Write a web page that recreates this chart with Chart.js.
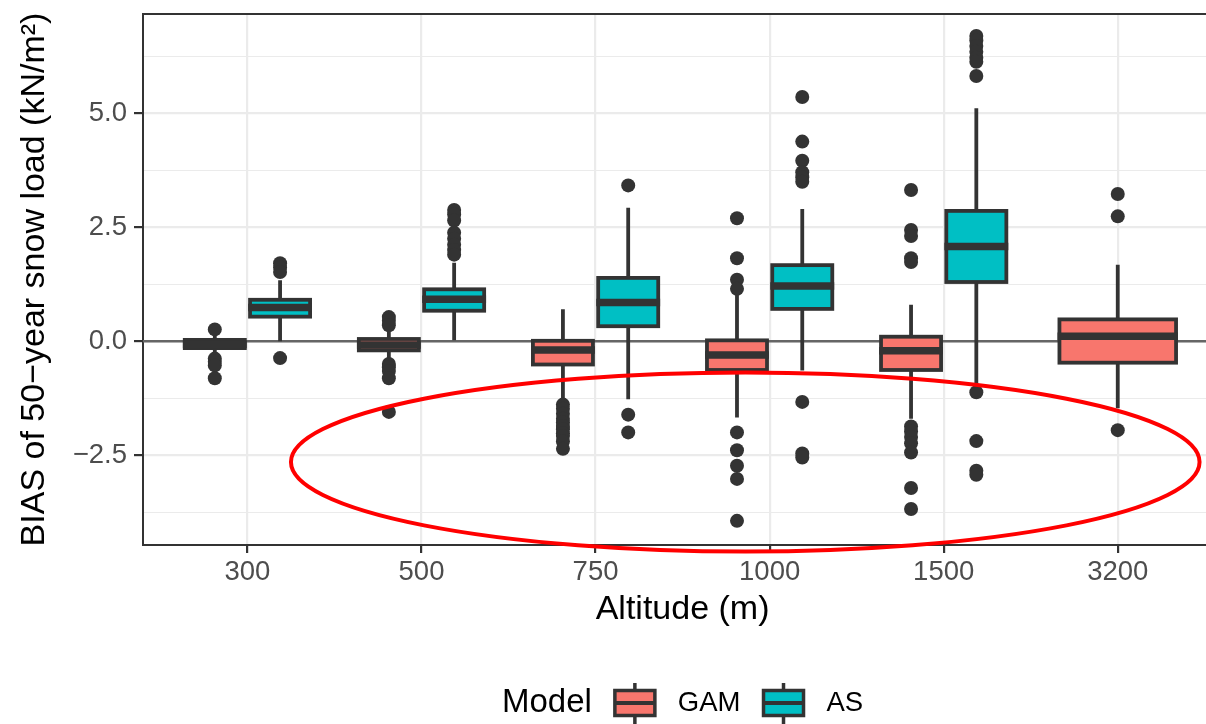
<!DOCTYPE html>
<html>
<head>
<meta charset="utf-8">
<script src="https://cdn.jsdelivr.net/npm/chart.js@4.4.0/dist/chart.umd.min.js"></script>
<style>
  html, body { margin: 0; padding: 0; background: #ffffff; }
</style>
</head>
<body>
<canvas id="chart" width="1206" height="724"></canvas>
<script>
const altitudes = ['300', '500', '750', '1000', '1500', '3200'];

// GAM: whisker ends, hinges and median per altitude
const gamLow = [-0.30, -0.42, -1.32, -1.67, -1.70, -1.47];
const gamQ1 = [-0.15, -0.20, -0.51, -0.63, -0.63, -0.47];
const gamMedian = [-0.07, -0.08, -0.19, -0.30, -0.21, 0.11];
const gamQ3 = [0.03, 0.05, 0.01, 0.02, 0.10, 0.48];
const gamHigh = [0.15, 0.22, 0.70, 1.02, 0.80, 1.68];
const gamOutliers = [
    [0.26, -0.38, -0.45, -0.53, -0.81],
    [0.53, 0.45, 0.35, -0.50, -0.57, -0.65, -0.81, -1.55],
    [-1.39, -1.48, -1.59, -1.70, -1.78, -1.86, -1.93, -2.02, -2.08, -2.20, -2.36],
    [2.70, 1.82, 1.35, 1.15, -2.00, -2.39, -2.73, -3.02, -3.94],
    [3.32, 2.44, 2.31, 1.82, 1.74, -1.87, -1.98, -2.10, -2.24, -2.44, -3.22, -3.68],
    [3.23, 2.74, -1.95]
];

// AS: no box at 3200 m
const asLow = [0.00, 0.02, -1.27, -0.64, -0.95, null];
const asQ1 = [0.54, 0.67, 0.33, 0.71, 1.30, null];
const asMedian = [0.74, 0.92, 0.85, 1.21, 2.08, null];
const asQ3 = [0.91, 1.14, 1.39, 1.67, 2.86, null];
const asHigh = [1.34, 1.72, 2.93, 2.90, 5.11, null];
const asOutliers = [
    [1.71, 1.62, 1.52, -0.37],
    [2.88, 2.78, 2.65, 2.38, 2.25, 2.12, 2.00, 1.90],
    [3.42, -1.61, -2.00],
    [5.36, 4.38, 3.96, 3.71, 3.60, 3.50, -1.33, -2.46, -2.55],
    [6.70, 6.60, 6.48, 6.35, 6.22, 6.13, 5.82, -1.12, -2.19, -2.84, -2.93],
    []
];

const yMajorTicks = [-2.5, 0, 2.5, 5];
const yMinorTicks = [-3.75, -1.25, 1.25, 3.75, 6.25];
const refValue = 0;

// red ellipse annotation, in data units (x = category index)
const ellipseCenter = [3.86, -2.65];
const ellipseRadius = [2.61, 1.965];

const series = [
    { name: 'GAM', color: '#F8766D', low: gamLow, q1: gamQ1, median: gamMedian, q3: gamQ3, high: gamHigh, outliers: gamOutliers },
    { name: 'AS', color: '#00BFC4', low: asLow, q1: asQ1, median: asMedian, q3: asQ3, high: asHigh, outliers: asOutliers }
];

const FONT = "'Liberation Sans', Arial, sans-serif";
const DARK = '#333333';
const dodge = 0.1875;
const dodgedBoxWidth = 0.345;
const singleBoxWidth = 0.67;

const isDodged = (i) => series.every(s => s.q1[i] != null);
const xPos = (si, i) => isDodged(i) ? i + 1 + (si === 0 ? -dodge : dodge) : i + 1;
const isMajor = (v) => yMajorTicks.some(t => Math.abs(t - v) < 1e-9);
// middle of the full panel (ggplot keeps 0.6 of a step on each side)
const panelMid = (altitudes.length + 1) / 2;

const boxplotPlugin = {
    id: 'boxplot',
    beforeDatasetsDraw(chart) {
        const { ctx, chartArea: a, scales: { x, y } } = chart;
        ctx.save();
        ctx.beginPath();
        ctx.rect(a.left, a.top, a.right - a.left, a.bottom - a.top);
        ctx.clip();

        // reference line at zero
        const yRef = y.getPixelForValue(refValue);
        ctx.strokeStyle = '#666666';
        ctx.lineWidth = 2.5;
        ctx.beginPath();
        ctx.moveTo(a.left, yRef);
        ctx.lineTo(a.right, yRef);
        ctx.stroke();

        series.forEach((s, si) => {
            s.q1.forEach((q1, i) => {
                if (q1 == null) return;
                const cx = xPos(si, i);
                const half = (isDodged(i) ? dodgedBoxWidth : singleBoxWidth) / 2;
                const px = x.getPixelForValue(cx);
                const left = x.getPixelForValue(cx - half);
                const right = x.getPixelForValue(cx + half);
                const top = y.getPixelForValue(s.q3[i]);
                const bottom = y.getPixelForValue(q1);

                ctx.strokeStyle = DARK;
                ctx.lineWidth = 3.8;
                ctx.beginPath();
                ctx.moveTo(px, y.getPixelForValue(s.high[i]));
                ctx.lineTo(px, top);
                ctx.moveTo(px, bottom);
                ctx.lineTo(px, y.getPixelForValue(s.low[i]));
                ctx.stroke();

                ctx.fillStyle = s.color;
                ctx.fillRect(left, top, right - left, bottom - top);
                ctx.strokeRect(left, top, right - left, bottom - top);

                const ym = y.getPixelForValue(s.median[i]);
                ctx.lineWidth = 7.5;
                ctx.beginPath();
                ctx.moveTo(left - 1.9, ym);
                ctx.lineTo(right + 1.9, ym);
                ctx.stroke();
            });
        });
        ctx.restore();
    },
    afterDraw(chart) {
        const { ctx, chartArea: a, scales: { x, y } } = chart;
        const mid = x.getPixelForValue(panelMid);
        ctx.save();

        // top edge of the panel border
        ctx.strokeStyle = DARK;
        ctx.lineWidth = 2;
        ctx.beginPath();
        ctx.moveTo(a.left, a.top);
        ctx.lineTo(a.right, a.top);
        ctx.stroke();

        // highlight ellipse
        const ex = x.getPixelForValue(ellipseCenter[0]);
        const ey = y.getPixelForValue(ellipseCenter[1]);
        const rx = x.getPixelForValue(ellipseCenter[0] + ellipseRadius[0]) - ex;
        const ry = ey - y.getPixelForValue(ellipseCenter[1] + ellipseRadius[1]);
        ctx.strokeStyle = '#FF0000';
        ctx.lineWidth = 4;
        ctx.beginPath();
        ctx.ellipse(ex, ey, rx, ry, 0, 0, Math.PI * 2);
        ctx.stroke();

        // x axis title, centred on the full panel
        ctx.fillStyle = '#000000';
        ctx.textBaseline = 'middle';
        ctx.textAlign = 'center';
        ctx.font = '34px ' + FONT;
        ctx.fillText('Altitude (m)', mid, 610);

        // legend: "Model" + box keys
        const ly = 703;
        const keyW = 40, keyH = 25;
        ctx.textAlign = 'left';
        ctx.font = '33px ' + FONT;
        const titleW = ctx.measureText('Model').width;
        ctx.font = '27.5px ' + FONT;
        const labelW = series.map(s => ctx.measureText(s.name).width);
        const total = titleW + series.reduce((acc, s, i) => acc + 23 + keyW + 23 + labelW[i], 0);
        let lx = mid - total / 2;

        ctx.fillStyle = '#000000';
        ctx.font = '33px ' + FONT;
        ctx.fillText('Model', lx, ly);
        lx += titleW + 23;
        series.forEach((s, i) => {
            const kx = lx + keyW / 2;
            ctx.strokeStyle = DARK;
            ctx.lineWidth = 3.5;
            ctx.beginPath();
            ctx.moveTo(kx, ly - 20);
            ctx.lineTo(kx, ly + 24);
            ctx.stroke();
            ctx.fillStyle = s.color;
            ctx.fillRect(lx, ly - keyH / 2, keyW, keyH);
            ctx.strokeRect(lx, ly - keyH / 2, keyW, keyH);
            ctx.lineWidth = 4;
            ctx.beginPath();
            ctx.moveTo(lx, ly);
            ctx.lineTo(lx + keyW, ly);
            ctx.stroke();
            lx += keyW + 23;
            ctx.fillStyle = '#000000';
            ctx.font = '27.5px ' + FONT;
            ctx.fillText(s.name, lx, ly);
            lx += labelW[i] + 23;
        });
        ctx.restore();
    }
};

new Chart(document.getElementById('chart').getContext('2d'), {
    type: 'scatter',
    data: {
        datasets: series.map((s, si) => ({
            label: s.name,
            data: s.outliers.flatMap((vals, i) => vals.map(v => ({ x: xPos(si, i), y: v }))),
            pointRadius: 7,
            pointHoverRadius: 7,
            backgroundColor: DARK,
            borderWidth: 0
        }))
    },
    options: {
        responsive: false,
        animation: false,
        events: [],
        layout: { autoPadding: false, padding: { top: 14, left: 0, right: 0, bottom: 0 } },
        plugins: { legend: { display: false }, tooltip: { enabled: false } },
        scales: {
            x: {
                type: 'linear',
                min: 0.4,
                max: 6.507,
                afterBuildTicks: s => { s.ticks = altitudes.map((a, i) => ({ value: i + 1 })); },
                afterFit: s => { s.height = 179; s.paddingLeft = 0; s.paddingRight = 0; },
                ticks: {
                    callback: v => altitudes[v - 1] ?? '',
                    font: { family: FONT, size: 27.5 },
                    color: '#4D4D4D',
                    padding: 3,
                    maxRotation: 0,
                    autoSkip: false
                },
                grid: { color: '#EBEBEB', lineWidth: 2.2, tickLength: 8, tickColor: DARK, tickWidth: 2.2 },
                border: { display: true, color: DARK, width: 2 }
            },
            y: {
                min: -4.47,
                max: 7.18,
                afterBuildTicks: s => {
                    s.ticks = yMinorTicks.concat(yMajorTicks).sort((p, q) => p - q).map(v => ({ value: v }));
                },
                afterFit: s => { s.width = 143; s.paddingTop = 0; s.paddingBottom = 0; },
                ticks: {
                    callback: v => isMajor(v) ? v.toFixed(1).replace('-', '\u2212') : '',
                    font: { family: FONT, size: 27.5 },
                    color: '#4D4D4D',
                    padding: 7
                },
                grid: {
                    color: '#EBEBEB',
                    lineWidth: c => isMajor(c.tick.value) ? 2.2 : 1.1,
                    tickLength: 9,
                    tickColor: c => isMajor(c.tick.value) ? DARK : 'rgba(0,0,0,0)',
                    tickWidth: 2.2
                },
                border: { display: true, color: DARK, width: 2 },
                title: {
                    display: true,
                    text: 'BIAS of 50\u2212year snow load (kN/m\u00B2)',
                    color: '#000000',
                    font: { family: FONT, size: 34 },
                    padding: { top: 14, bottom: 0 }
                }
            }
        }
    },
    plugins: [boxplotPlugin]
});
</script>
</body>
</html>
